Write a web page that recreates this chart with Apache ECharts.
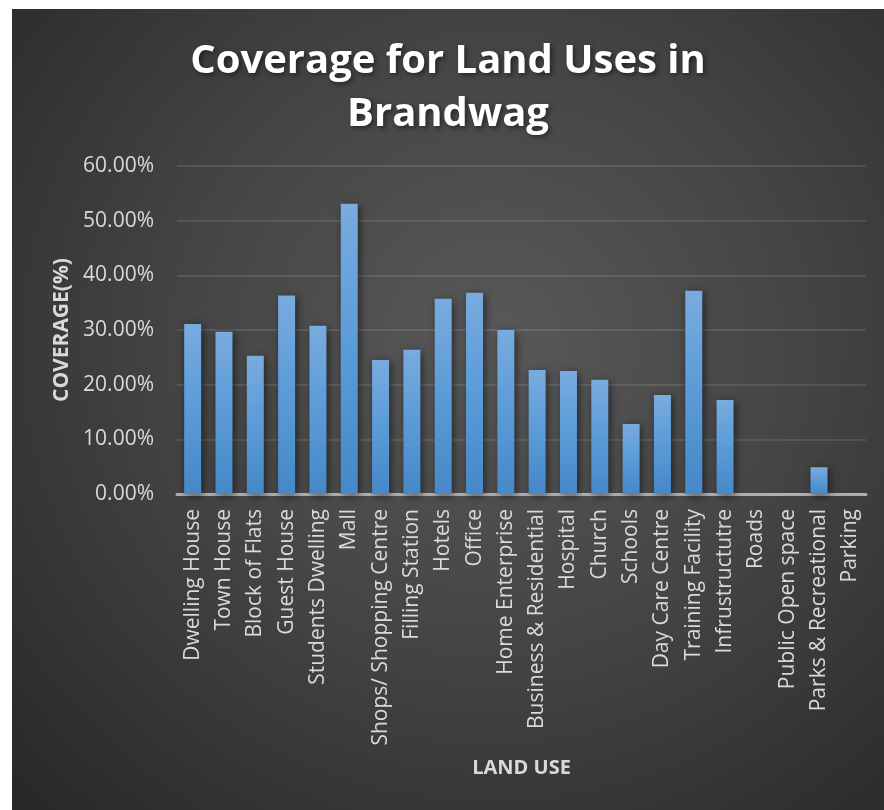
<!DOCTYPE html>
<html>
<head>
<meta charset="utf-8">
<title>Coverage for Land Uses in Brandwag</title>
<script src="https://cdn.jsdelivr.net/npm/echarts@6/dist/echarts.min.js"></script>
<style>
  html, body {
    margin: 0;
    padding: 0;
    background: #ffffff;
  }
  #chart {
    position: absolute;
    left: 12px;
    top: 9px;
    width: 872px;
    height: 801px;
    background: radial-gradient(ellipse farthest-corner at 55% 42%, #595959 0%, #454545 45%, #272727 100%);
  }
</style>
</head>
<body>
<div id="chart"></div>
<script>
// land use categories (x axis)
const landUses = [
  'Dwelling House', 'Town House', 'Block of Flats', 'Guest House', 'Students Dwelling',
  'Mall', 'Shops/ Shopping Centre', 'Filling Station', 'Hotels', 'Office',
  'Home Enterprise', 'Business & Residential', 'Hospital', 'Church', 'Schools',
  'Day Care Centre', 'Training Facility', 'Infrustructutre', 'Roads',
  'Public Open space', 'Parks & Recreational', 'Parking'
]

// coverage in percent
const coverage = [
  31.1, 29.7, 25.3, 36.3, 30.8,
  53.1, 24.5, 26.4, 35.7, 36.8,
  30.0, 22.7, 22.5, 20.9, 12.8,
  18.1, 37.2, 17.2, 0,
  0, 4.9, 0
]

// y axis ticks
const yMin = 0
const yMax = 60
const yStep = 10

const labelColor = '#d9d9d9'
const fontFamily = '"Open Sans", "Noto Sans", sans-serif'

const chart = echarts.init(document.getElementById('chart'))

const option = {
  backgroundColor: 'transparent',
  animation: false,
  title: {
    text: 'Coverage for Land Uses in\nBrandwag',
    left: 'center',
    top: 21,
    textStyle: {
      color: '#ffffff',
      fontFamily: fontFamily,
      fontWeight: 'bold',
      fontSize: 40,
      lineHeight: 53,
      textShadowColor: 'rgba(0,0,0,0.5)',
      textShadowBlur: 5,
      textShadowOffsetX: 2,
      textShadowOffsetY: 2
    }
  },
  grid: {
    left: 165,
    right: 18,
    top: 157,
    bottom: 316
  },
  xAxis: {
    type: 'category',
    data: landUses,
    name: 'LAND USE',
    nameLocation: 'middle',
    nameGap: 264,
    nameTextStyle: {
      color: labelColor,
      fontFamily: fontFamily,
      fontWeight: 'bold',
      fontSize: 20
    },
    axisLine: {
      lineStyle: { color: 'rgba(217,217,217,0.7)', width: 3 }
    },
    axisTick: { show: false },
    axisLabel: {
      interval: 0,
      rotate: 90,
      margin: 15,
      color: labelColor,
      fontFamily: fontFamily,
      fontSize: 21
    }
  },
  yAxis: {
    type: 'value',
    min: yMin,
    max: yMax,
    interval: yStep,
    name: 'COVERAGE(%)',
    nameLocation: 'middle',
    nameGap: 104,
    nameTextStyle: {
      color: labelColor,
      fontFamily: fontFamily,
      fontWeight: 'bold',
      fontSize: 21
    },
    axisLine: { show: false },
    axisTick: { show: false },
    axisLabel: {
      margin: 23,
      color: labelColor,
      fontFamily: fontFamily,
      fontSize: 21,
      formatter: v => v.toFixed(2) + '%'
    },
    splitLine: {
      lineStyle: { color: 'rgba(255,255,255,0.1)', width: 2 }
    }
  },
  series: [
    {
      name: 'Coverage',
      type: 'bar',
      data: coverage,
      barWidth: 17,
      itemStyle: {
        color: new echarts.graphic.LinearGradient(0, 0, 0, 1, [
          { offset: 0, color: '#79abdf' },
          { offset: 0.5, color: '#5a9bd7' },
          { offset: 1, color: '#4688c8' }
        ]),
        shadowColor: 'rgba(0,0,0,0.55)',
        shadowBlur: 8,
        shadowOffsetX: 2,
        shadowOffsetY: 2
      }
    }
  ]
}

chart.setOption(option)
</script>
</body>
</html>
